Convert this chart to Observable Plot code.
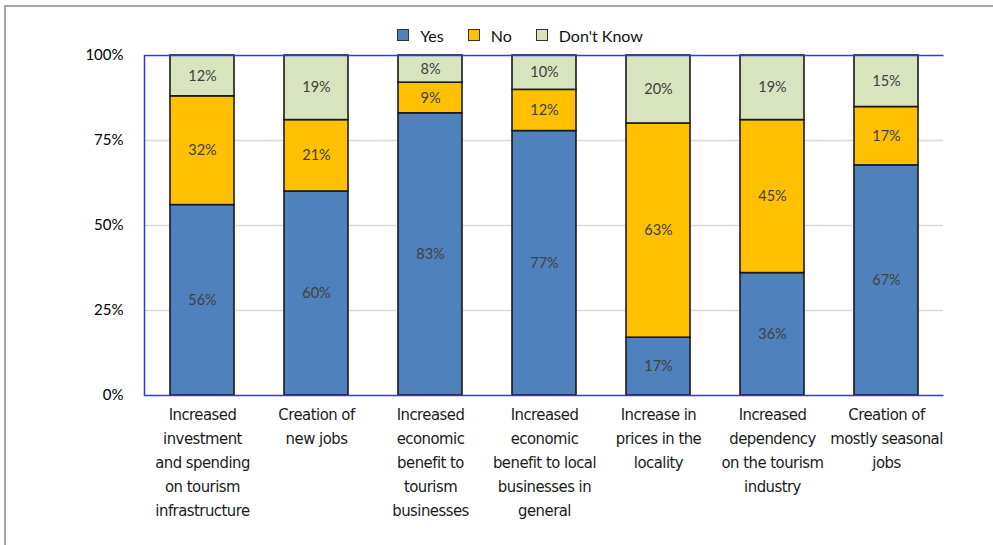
<!DOCTYPE html>
<html>
<head>
<meta charset="utf-8">
<script src="https://cdn.jsdelivr.net/npm/d3@7"></script>
<script src="https://cdn.jsdelivr.net/npm/@observablehq/plot@0.6"></script>
<style>
  html, body { margin: 0; padding: 0; background: #fff; }
  #wrap { position: relative; width: 993px; height: 545px; overflow: hidden; }
  #border { position: absolute; left: 4px; top: 5px; width: 1000px; height: 600px;
            border-left: 2px solid #a6a6a6; border-top: 2px solid #a6a6a6; box-sizing: border-box; }
  #legend { position: absolute; top: 25px; left: 5px; width: 1030px; text-align: center;
            font-family: Lato, "Open Sans", sans-serif; font-size: 16px; color: #111; }
  #legend .item { display: inline-flex; align-items: center; margin: 0 12px; }
  #legend .sw { display: inline-block; width: 10px; height: 10px; border: 1.5px solid #333; margin-right: 11px; }
  #chart { position: absolute; left: 0; top: 0; }
  #chart g[aria-label="x-axis tick label"] text { letter-spacing: -0.5px; }
</style>
</head>
<body>
<div id="wrap">
  <div id="border"></div>
  <div id="chart"></div>
  <div id="legend"></div>
</div>
<script>
// Survey: perceived effects of tourism, share of answers per statement
const categories = [
  "Increased\ninvestment\nand spending\non tourism\ninfrastructure",
  "Creation of\nnew jobs",
  "Increased\neconomic\nbenefit to\ntourism\nbusinesses",
  "Increased\neconomic\nbenefit to local\nbusinesses in\ngeneral",
  "Increase in\nprices in the\nlocality",
  "Increased\ndependency\non the tourism\nindustry",
  "Creation of\nmostly seasonal\njobs"
];
const answers = ["Yes", "No", "Don't Know"];
const colors = ["#4f81bd", "#ffc000", "#d7e4bd"];
const yes = [56, 60, 83, 77, 17, 36, 67];
const no = [32, 21, 9, 12, 63, 45, 17];
const dontKnow = [12, 19, 8, 10, 20, 19, 15];
const yTicks = [0, 0.25, 0.5, 0.75, 1];

const series = [yes, no, dontKnow];
const data = [];
answers.forEach((a, i) => {
  categories.forEach((c, j) => data.push({category: c, answer: a, value: series[i][j]}));
});

const width = 993, height = 545;
const margin = {left: 144, right: 50, top: 55, bottom: 150};
const innerW = width - margin.left - margin.right;
const innerH = height - margin.top - margin.bottom;

const stack = (opts) => Plot.stackY({
  x: "category", y: "value", z: "answer", offset: "normalize", order: answers, ...opts
});

const chart = Plot.plot({
  width,
  height,
  marginLeft: margin.left,
  marginRight: margin.right,
  marginTop: margin.top,
  marginBottom: margin.bottom,
  style: {fontFamily: "Lato, 'Open Sans', sans-serif", background: "transparent"},
  x: {domain: categories, paddingInner: 0.44, paddingOuter: 0.22, label: null},
  y: {domain: [0, 1], label: null},
  color: {domain: answers, range: colors},
  marks: [
    Plot.gridY(yTicks.slice(1, -1), {stroke: "#d9d9d9", strokeOpacity: 1, strokeWidth: 1.5}),
    Plot.barY(data, stack({fill: "answer", stroke: "#1a1a1a", strokeWidth: 1.6})),
    Plot.text(data, stack({text: d => d.value + "%", fill: "#404040", fontSize: 14.5})),
    // plot border on top, right-hand side open, bottom and left
    Plot.frame({stroke: "#3333ff", strokeWidth: 1.5,
      strokeDasharray: `${innerW} ${innerH} ${innerW + innerH}`}),
    Plot.axisY(yTicks, {tickSize: 0, tickPadding: 21, tickFormat: d => Math.round(d * 100) + "%",
      fontSize: 15, fill: "#000", label: null}),
    Plot.axisX({tickSize: 0, tickPadding: 8, fontSize: 16.5, lineHeight: 1.45, fill: "#1a1a1a",
      fontFamily: "'Liberation Sans Narrow', 'DejaVu Sans Condensed', sans-serif", label: null})
  ]
});
document.getElementById("chart").appendChild(chart);

const legend = document.getElementById("legend");
answers.forEach((a, i) => {
  const item = document.createElement("span");
  item.className = "item";
  const sw = document.createElement("span");
  sw.className = "sw";
  sw.style.background = colors[i];
  item.appendChild(sw);
  item.appendChild(document.createTextNode(a));
  legend.appendChild(item);
});
</script>
</body>
</html>
